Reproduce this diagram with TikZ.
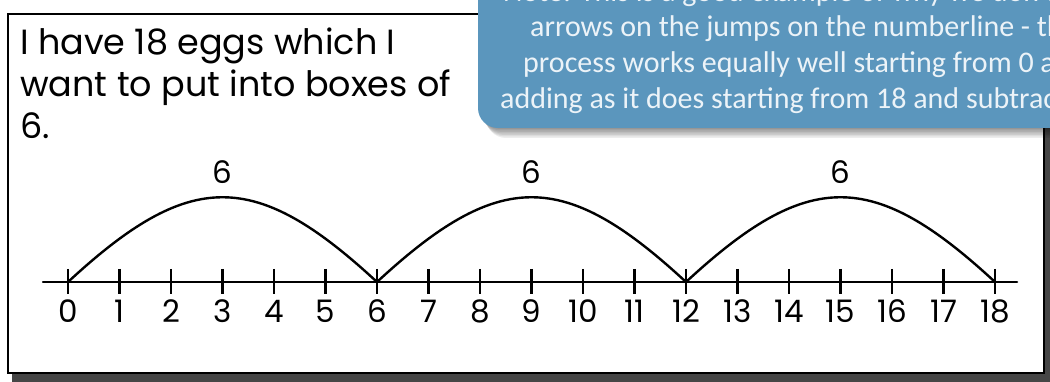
\documentclass[tikz,border=0pt]{standalone}
\usepackage{fontspec}
\newfontfamily\hand{Poppins}
\newfontfamily\calib{Carlito}
\definecolor{calloutblue}{RGB}{91,150,189}
\definecolor{callouttext}{RGB}{236,243,248}
\definecolor{shadowgray}{RGB}{70,70,70}
\begin{document}
\begin{tikzpicture}[x=1pt,y=-1pt,
  frame/.style={draw=black,line width=2.4pt,fill=white},
  numline/.style={line width=2.5pt,line cap=round},
  tick/.style={line width=2.2pt},
  jump/.style={line width=2.4pt},
  numlab/.style={font=\hand\fontsize{31}{33}\selectfont,anchor=base,inner sep=0pt},
  jumplab/.style={font=\hand\fontsize{31}{33}\selectfont,anchor=base,inner sep=0pt},
  handtxt/.style={font=\hand\fontsize{35}{40}\selectfont,anchor=base west,inner sep=0pt},
  calltxt/.style={font=\calib\fontsize{30}{34}\selectfont,text=callouttext,anchor=base west,inner sep=0pt}]
\useasboundingbox (0,0) rectangle (1050,382);
\clip (0,0) rectangle (1050,382);
% frame with shadow
\fill[shadowgray] (12,19) rectangle (1050,382);
\draw[frame] (8,14) rectangle (1044,373);
% story text
\node[handtxt] (s1) at (20,55) {I have 18 eggs which I};
\node[handtxt] (s2) at (20,97) {want to put into boxes of};
\node[handtxt] (s3) at (20,139) {6.};
% number line
\coordinate (L) at (43,282);
\coordinate (R) at (1017,282);
\draw[numline] (L) -- (R);
\foreach \i in {0,...,18}{
  \coordinate (t\i) at ({68+51.5*\i},282);
  \draw[tick] ({68+51.5*\i},269) -- ({68+51.5*\i},294);
  \node[numlab] (n\i) at ({68+51.5*\i},323) {\i};
}
% jumps
\draw[jump] (t0) .. controls +(122,-113) and +(-122,-113) .. (t6);
\draw[jump] (t6) .. controls +(122,-113) and +(-122,-113) .. (t12);
\draw[jump] (t12) .. controls +(122,-113) and +(-122,-113) .. (t18);
\node[jumplab] (j1) at (222.5,184) {6};
\node[jumplab] (j2) at (531.5,184) {6};
\node[jumplab] (j3) at (840.5,184) {6};
% callout shadow
\foreach \k in {1,...,8}{
  \fill[black,opacity=0.07,rounded corners=20pt] (478+\k,-30) rectangle (1080,{126+1.5*\k});
}
\fill[calloutblue,rounded corners=20pt] (478,-30) rectangle (1080,128);
\node[calltxt] (c0) at (503,2) {Note: This is a good example of why we don't use};
\node[calltxt] (c1) at (530,37) {arrows on the jumps on the numberline - the};
\node[calltxt] (c2) at (523,73) {process works equally well starting from 0 and};
\node[calltxt] (c3) at (500,109) {adding as it does starting from 18 and subtracting.};
\end{tikzpicture}
\end{document}
